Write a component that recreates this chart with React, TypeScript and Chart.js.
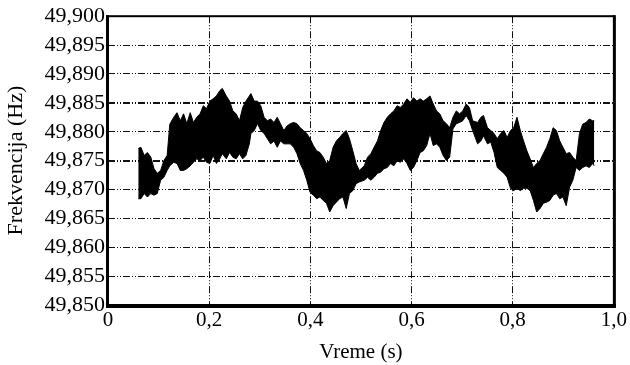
import React, { useEffect, useRef } from "react";
import { Chart, registerables } from "chart.js";

Chart.register(...registerables);

// time (s)
const time = [
  0.0598, 0.0651, 0.0715, 0.0779, 0.0846, 0.0910, 0.0974, 0.1040, 0.1105, 0.1169,
  0.1222, 0.1299, 0.1364, 0.1430, 0.1494, 0.1559, 0.1625, 0.1689, 0.1753, 0.1820,
  0.1884, 0.1948, 0.2014, 0.2079, 0.2143, 0.2209, 0.2260, 0.2338, 0.2404, 0.2468,
  0.2533, 0.2599, 0.2663, 0.2727, 0.2794, 0.2825, 0.2891, 0.2955, 0.3020, 0.3086,
  0.3150, 0.3215, 0.3281, 0.3345, 0.3409, 0.3476, 0.3540, 0.3604, 0.3670, 0.3735,
  0.3799, 0.3865, 0.3929, 0.3994, 0.4060, 0.4124, 0.4189, 0.4254, 0.4319, 0.4383,
  0.4450, 0.4514, 0.4578, 0.4644, 0.4709, 0.4773, 0.4839, 0.4904, 0.4968, 0.5065,
  0.5131, 0.5196, 0.5260, 0.5326, 0.5390, 0.5455, 0.5521, 0.5585, 0.5650, 0.5716,
  0.5780, 0.5845, 0.5911, 0.5975, 0.6039, 0.6106, 0.6170, 0.6234, 0.6300, 0.6365,
  0.6429, 0.6495, 0.6559, 0.6624, 0.6690, 0.6754, 0.6819, 0.6885, 0.6949, 0.7013,
  0.7080, 0.7144, 0.7208, 0.7306, 0.7372, 0.7423, 0.7501, 0.7567, 0.7631, 0.7695,
  0.7761, 0.7826, 0.7890, 0.7956, 0.8020, 0.8085, 0.8151, 0.8215, 0.8280, 0.8345,
  0.8410, 0.8474, 0.8540, 0.8605, 0.8669, 0.8735, 0.8799, 0.8864, 0.8930, 0.8994,
  0.9058, 0.9125, 0.9189, 0.9254, 0.9320, 0.9384, 0.9449, 0.9515, 0.9579, 0.9612,
];

// upper envelope of the frequency trace (Hz)
const freqUpper = [
  49.8771, 49.8773, 49.8759, 49.8764, 49.8756, 49.8736, 49.8728, 49.8733, 49.8750, 49.8759,
  49.8813, 49.8825, 49.8833, 49.8819, 49.8831, 49.8814, 49.8833, 49.8816, 49.8825, 49.8831,
  49.8845, 49.8840, 49.8853, 49.8857, 49.8862, 49.8871, 49.8875, 49.8862, 49.8853, 49.8836,
  49.8831, 49.8819, 49.8842, 49.8853, 49.8862, 49.8866, 49.8853, 49.8853, 49.8845, 49.8825,
  49.8819, 49.8822, 49.8816, 49.8825, 49.8814, 49.8802, 49.8810, 49.8814, 49.8816, 49.8814,
  49.8807, 49.8802, 49.8797, 49.8788, 49.8776, 49.8767, 49.8764, 49.8756, 49.8745, 49.8750,
  49.8773, 49.8784, 49.8790, 49.8797, 49.8802, 49.8788, 49.8767, 49.8745, 49.8733, 49.8741,
  49.8756, 49.8762, 49.8773, 49.8784, 49.8802, 49.8816, 49.8825, 49.8831, 49.8836, 49.8845,
  49.8842, 49.8848, 49.8857, 49.8851, 49.8859, 49.8853, 49.8857, 49.8853, 49.8857, 49.8862,
  49.8848, 49.8836, 49.8831, 49.8819, 49.8814, 49.8807, 49.8825, 49.8836, 49.8831, 49.8836,
  49.8848, 49.8842, 49.8819, 49.8816, 49.8825, 49.8828, 49.8807, 49.8802, 49.8797, 49.8788,
  49.8797, 49.8802, 49.8790, 49.8802, 49.8807, 49.8825, 49.8802, 49.8784, 49.8767, 49.8753,
  49.8738, 49.8745, 49.8750, 49.8762, 49.8773, 49.8788, 49.8807, 49.8802, 49.8784, 49.8773,
  49.8762, 49.8764, 49.8756, 49.8750, 49.8797, 49.8813, 49.8816, 49.8822, 49.8819, 49.8819,
];

// lower envelope of the frequency trace (Hz)
const freqLower = [
  49.8684, 49.8684, 49.8693, 49.8687, 49.8693, 49.8690, 49.8693, 49.8716, 49.8721, 49.8733,
  49.8741, 49.8747, 49.8745, 49.8733, 49.8733, 49.8736, 49.8741, 49.8747, 49.8753, 49.8750,
  49.8756, 49.8747, 49.8745, 49.8759, 49.8745, 49.8753, 49.8762, 49.8753, 49.8764, 49.8756,
  49.8753, 49.8762, 49.8753, 49.8759, 49.8779, 49.8797, 49.8802, 49.8814, 49.8802, 49.8797,
  49.8788, 49.8779, 49.8784, 49.8773, 49.8784, 49.8779, 49.8779, 49.8779, 49.8773, 49.8762,
  49.8745, 49.8733, 49.8716, 49.8695, 49.8690, 49.8684, 49.8687, 49.8681, 49.8676, 49.8661,
  49.8672, 49.8678, 49.8684, 49.8687, 49.8667, 49.8693, 49.8698, 49.8710, 49.8713, 49.8716,
  49.8721, 49.8716, 49.8721, 49.8728, 49.8730, 49.8736, 49.8738, 49.8745, 49.8741, 49.8750,
  49.8747, 49.8753, 49.8745, 49.8733, 49.8738, 49.8750, 49.8764, 49.8767, 49.8776, 49.8797,
  49.8776, 49.8779, 49.8773, 49.8759, 49.8750, 49.8756, 49.8805, 49.8814, 49.8816, 49.8819,
  49.8828, 49.8819, 49.8802, 49.8779, 49.8784, 49.8793, 49.8779, 49.8782, 49.8764, 49.8738,
  49.8733, 49.8728, 49.8721, 49.8702, 49.8698, 49.8702, 49.8698, 49.8702, 49.8702, 49.8698,
  49.8681, 49.8661, 49.8667, 49.8676, 49.8678, 49.8681, 49.8690, 49.8693, 49.8684, 49.8687,
  49.8672, 49.8704, 49.8716, 49.8738, 49.8733, 49.8738, 49.8741, 49.8738, 49.8745, 49.8741,
];

const xTicks = [0, 0.2, 0.4, 0.6, 0.8, 1.0];
const yMin = 49.85;
const yMax = 49.9;
const yStep = 0.005;

const FONT = "'Liberation Serif', 'Times New Roman', serif";

const framePlugin = {
  id: "frame",
  afterDraw(chart: any) {
    const { ctx, chartArea } = chart;
    const { left, right, top, bottom } = chartArea;
    ctx.save();
    ctx.fillStyle = "#000";
    ctx.fillRect(left - 2, top - 1, right - left + 3, 2);
    ctx.fillRect(right - 1, top - 1, 3, bottom - top + 3);
    ctx.fillRect(left - 2, bottom - 1, right - left + 4, 4);
    ctx.fillRect(left - 2, top - 1, 3, bottom - top + 4);
    ctx.restore();
  },
};

export default function App() {
  const ref = useRef<HTMLCanvasElement | null>(null);

  useEffect(() => {
    if (!ref.current) return;
    const upperPts = time.map((t, i) => ({ x: t, y: freqUpper[i] }));
    const lowerPts = time.map((t, i) => ({ x: t, y: freqLower[i] }));
    const chart = new Chart(ref.current, {
      type: "line",
      data: {
        datasets: [
          {
            data: upperPts,
            borderColor: "#000",
            backgroundColor: "#000",
            borderWidth: 1,
            pointRadius: 0,
            fill: "+1",
            tension: 0,
          },
          {
            data: lowerPts,
            borderColor: "#000",
            backgroundColor: "#000",
            borderWidth: 1,
            pointRadius: 0,
            fill: false,
            tension: 0,
          },
        ],
      },
      options: {
        animation: false,
        responsive: false,
        maintainAspectRatio: false,
        layout: { padding: { left: 0, right: 9, top: 15, bottom: 0 } },
        plugins: {
          legend: { display: false },
          tooltip: { enabled: false },
        },
        scales: {
          x: {
            type: "linear",
            min: 0,
            max: 1,
            afterFit: (s: any) => {
              s.height = 60;
            },
            afterBuildTicks: (s: any) => {
              s.ticks = xTicks.map((v) => ({ value: v }));
            },
            ticks: {
              autoSkip: false,
              maxRotation: 0,
              color: "#000",
              padding: 3,
              font: { family: FONT, size: 21 },
              callback: (v: any) => (Number(v) === 0 ? "0" : Number(v).toFixed(1).replace(".", ",")),
            },
            grid: {
              color: "#111",
              lineWidth: 1,
              drawTicks: false,
            },
            border: { display: false, dash: [7, 2, 1, 2, 1, 2] },
            title: {
              display: true,
              text: "Vreme (s)",
              color: "#000",
              font: { family: FONT, size: 21 },
              padding: { top: 0, bottom: 0 },
            },
          },
          y: {
            type: "linear",
            min: yMin,
            max: yMax,
            afterFit: (s: any) => {
              s.width = 108;
            },
            ticks: {
              autoSkip: false,
              stepSize: yStep,
              color: "#000",
              padding: 3,
              font: { family: FONT, size: 22 },
              callback: (v: any) => Number(v).toFixed(3).replace(".", ","),
            },
            grid: {
              color: "#111",
              lineWidth: (c: any) => {
                const v = c.tick ? Math.round(c.tick.value * 1000) : 0;
                return v === 49885 || v === 49875 ? 2 : 1;
              },
              drawTicks: false,
            },
            border: { display: false, dash: [7, 2, 1, 2, 1, 2] },
            title: {
              display: true,
              text: "Frekvencija (Hz)",
              color: "#000",
              font: { family: FONT, size: 22 },
              padding: { top: 3, bottom: 0 },
            },
          },
        },
      },
      plugins: [framePlugin],
    });
    return () => chart.destroy();
  }, []);

  return (
    <div style={{ position: "fixed", left: 0, top: 0, width: 630, height: 365, background: "#fff" }}>
      <canvas ref={ref} width={630} height={365} style={{ width: 630, height: 365 }} />
    </div>
  );
}
